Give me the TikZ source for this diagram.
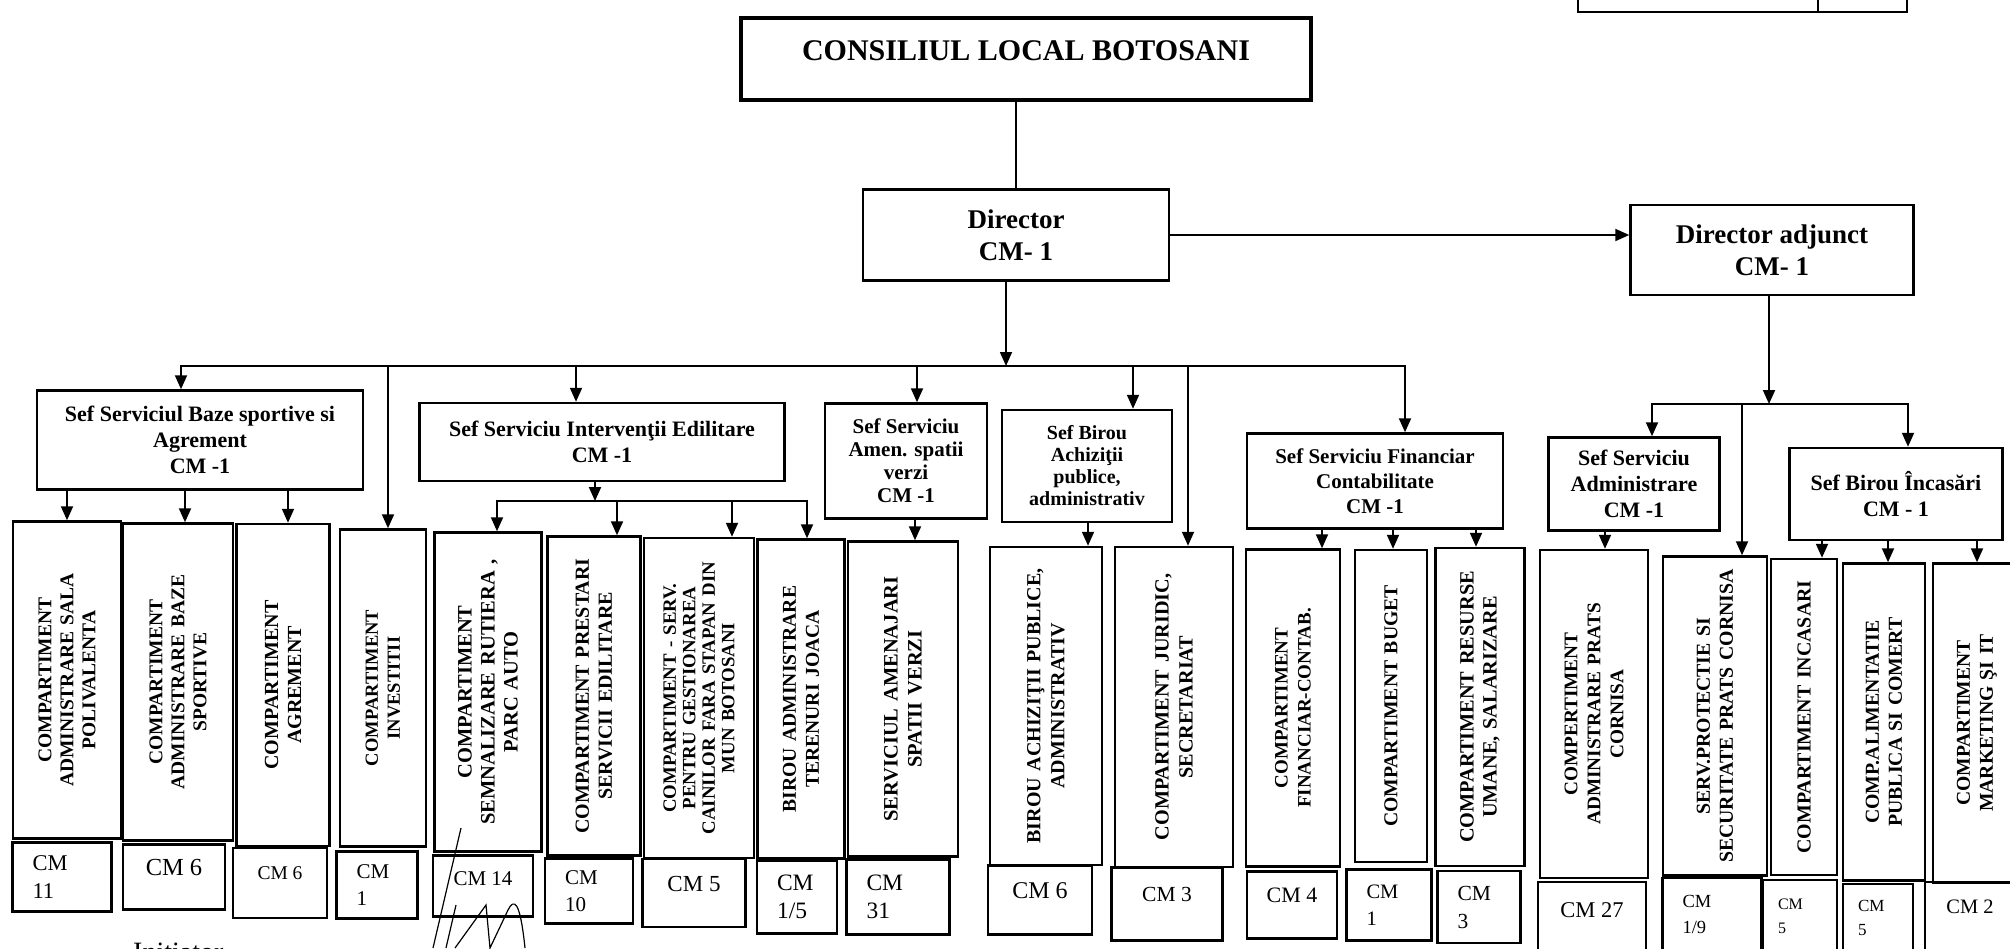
\documentclass[tikz,border=0pt]{standalone}
\usepackage{fontspec}
\setmainfont{Liberation Serif}
\usepackage{tikz}
\usetikzlibrary{arrows.meta}
\newcommand{\vsz}[2]{\bfseries\fontsize{#1}{#2}\selectfont}
\tikzstyle{orgbox}=[draw=black, line width=2.5pt, inner sep=0pt, align=center]
\tikzstyle{headbox}=[orgbox, font=\bfseries\fontsize{27}{32}\selectfont]
\tikzstyle{sefbox}=[orgbox, font=\bfseries\fontsize{22}{26}\selectfont]
\tikzstyle{compbox}=[orgbox, rotate=90, text width=310pt, font=\vsz{20}{23}]
\tikzstyle{cmbox}=[orgbox, font=\fontsize{23}{28}\selectfont]
\tikzstyle{cmone}=[cmbox, text depth=19pt]
\tikzstyle{cmtwo}=[cmbox, align=left]
\tikzstyle{conn}=[line width=2pt]
\tikzstyle{arr}=[conn, -{Triangle[length=14pt,width=12pt]}]
\tikzstyle{arrs}=[conn, {Triangle[length=14pt,width=12pt]}-{Triangle[length=14pt,width=12pt]}]

\begin{document}
\begin{tikzpicture}[x=1pt, y=-1pt]
        \useasboundingbox (0,0) rectangle (2010,948);
        \clip (0,0) rectangle (2010,948);

            % conducere
            \node (cl)[headbox, line width=3.4pt, font=\bfseries\fontsize{30}{34}\selectfont,
                minimum width=570, minimum height=82, text depth=16pt] at (1026,59)
                {CONSILIUL LOCAL BOTOSANI};
            \node (dir)[headbox, minimum width=306, minimum height=91] at (1016,235)
                {Director\\CM- 1};
            \node (adj)[headbox, minimum width=283, minimum height=90] at (1772,250)
                {Director adjunct\\CM- 1};

            % sefi servicii / birouri
            \node (baze)[sefbox, minimum width=326, minimum height=99] at (200,440)
                {Sef Serviciul Baze sportive si\\Agrement\\CM -1};
            \node (intv)[sefbox, minimum width=365, minimum height=78] at (602,442)
                {Sef Serviciu Intervenţii Edilitare\\CM -1};
            \node (amen)[sefbox, font=\bfseries\fontsize{21}{23}\selectfont,
                minimum width=162, minimum height=115] at (906,461)
                {Sef Serviciu\\Amen. spatii\\verzi\\CM -1};
            \node (achiz)[sefbox, font=\bfseries\fontsize{20}{22}\selectfont,
                minimum width=170, minimum height=112] at (1087,466)
                {Sef Birou\\Achiziţii\\publice,\\administrativ};
            \node (fin)[sefbox, font=\bfseries\fontsize{21}{25}\selectfont,
                minimum width=256, minimum height=95] at (1375,481)
                {Sef Serviciu Financiar\\Contabilitate\\CM -1};
            \node (admin)[sefbox, minimum width=171, minimum height=93] at (1634,484)
                {Sef Serviciu\\Administrare\\CM -1};
            \node (incas)[sefbox, minimum width=213, minimum height=92] at (1896,494)
                {Sef Birou Încasări\\CM - 1};

            % compartimente
            \node (v1)[compbox, font=\vsz{19.5}{22}, minimum width=317, minimum height=108] at (67,680)
                {COMPARTIMENT\\ADMINISTRARE SALA\\POLIVALENTA};
            \node (v2)[compbox, font=\vsz{19.5}{22}, minimum width=317, minimum height=110] at (178,682)
                {COMPARTIMENT\\ADMINISTRARE BAZE\\SPORTIVE};
            \node (v3)[compbox, minimum width=322, minimum height=93] at (283,685)
                {COMPARTIMENT\\AGREMENT};
            \node (v4)[compbox, font=\vsz{18.5}{22}, minimum width=317, minimum height=86] at (383,688)
                {COMPARTIMENT\\INVESTITII};
            \node (v5)[compbox, font=\vsz{20.5}{23}, minimum width=319, minimum height=107] at (488,692)
                {COMPARTIMENT\\SEMNALIZARE RUTIERA ,\\PARC AUTO};
            \node (v6)[compbox, minimum width=319, minimum height=93] at (594,696)
                {COMPARTIMENT PRESTARI\\SERVICII EDILITARE};
            \node (v7)[compbox, font=\vsz{18.8}{19.5}, minimum width=320, minimum height=110] at (699,698)
                {COMPARTIMENT - SERV.\\PENTRU GESTIONAREA\\CAINILOR FARA STAPAN DIN\\MUN BOTOSANI};
            \node (v8)[compbox, font=\vsz{19.6}{23}, minimum width=319, minimum height=87] at (801,699)
                {BIROU ADMINISTRARE\\TERENURI JOACA};
            \node (v9)[compbox, font=\vsz{20.5}{24}, minimum width=315, minimum height=110] at (903,699)
                {SERVICIUL AMENAJARI\\SPATII VERZI};
            \node (v10)[compbox, font=\vsz{20}{24}, minimum width=318, minimum height=112] at (1046,706)
                {BIROU ACHIZIŢII PUBLICE,\\ADMINISTRATIV};
            \node (v11)[compbox, font=\vsz{20.2}{24}, minimum width=320, minimum height=118] at (1174,707)
                {COMPARTIMENT JURIDIC,\\SECRETARIAT};
            \node (v12)[compbox, font=\vsz{19}{23}, minimum width=317, minimum height=94] at (1293,708)
                {COMPARTIMENT\\FINANCIAR-CONTAB.};
            \node (v13)[compbox, font=\vsz{19.7}{23}, minimum width=312, minimum height=72] at (1391,706)
                {COMPARTIMENT BUGET};
            \node (v14)[compbox, font=\vsz{20.3}{23}, minimum width=318, minimum height=89] at (1480,707)
                {COMPARTIMENT RESURSE\\UMANE, SALARIZARE};
            \node (v15)[compbox, font=\vsz{19.3}{23}, minimum width=328, minimum height=108] at (1594,714)
                {COMPERTIMENT\\ADMINISTRARE PRATS\\CORNISA};
            \node (v16)[compbox, font=\vsz{19.8}{23}, minimum width=319, minimum height=104] at (1715,716)
                {SERV.PROTECTIE SI\\SECURITATE PRATS CORNISA};
            \node (v17)[compbox, font=\vsz{19.9}{23}, minimum width=316, minimum height=66] at (1804,717)
                {COMPARTIMENT INCASARI};
            \node (v18)[compbox, font=\vsz{19.8}{23}, minimum width=317, minimum height=82] at (1884,722)
                {COMP.ALIMENTATIE\\PUBLICA SI COMERT};
            \node (v19)[compbox, font=\vsz{19.6}{23}, minimum width=319, minimum height=88] at (1977,723)
                {COMPARTIMENT\\MARKETING ŞI IT};

            % numar posturi
            \node (c1)[cmtwo, font=\fontsize{22.5}{28}\selectfont, minimum width=99, minimum height=69, text width=59pt] at (62,877) {CM\\11};
            \node (c2)[cmone, font=\fontsize{24.5}{28}\selectfont, minimum width=102, minimum height=65] at (174,877) {CM 6};
            \node (c3)[cmone, font=\fontsize{19.5}{24}\selectfont, minimum width=94, minimum height=70] at (280,883) {CM 6};
            \node (c4)[cmtwo, font=\fontsize{21}{27}\selectfont, minimum width=81, minimum height=67, text width=41pt] at (377,885) {CM\\1};
            \node (c5)[cmone, font=\fontsize{21}{25}\selectfont, minimum width=100, minimum height=61, text depth=15pt] at (483,886) {CM 14};
            \node (c6)[cmtwo, font=\fontsize{21}{27}\selectfont, minimum width=88, minimum height=65, text width=48pt] at (589,891) {CM\\10};
            \node (c7)[cmone, minimum width=103, minimum height=68] at (694,893) {CM 5};
            \node (c8)[cmtwo, font=\fontsize{23.5}{28}\selectfont, minimum width=80, minimum height=73, text width=40pt] at (797,897) {CM\\1/5};
            \node (c9)[cmtwo, font=\fontsize{23.5}{28}\selectfont, minimum width=103, minimum height=75, text width=63pt] at (898,897) {CM\\31};
            \node (c10)[cmone, font=\fontsize{24}{28}\selectfont, minimum width=104, minimum height=69] at (1040,900) {CM 6};
            \node (c11)[cmone, font=\fontsize{21.5}{25}\selectfont, minimum width=111, minimum height=73] at (1167,904) {CM 3};
            \node (c12)[cmone, font=\fontsize{22}{25}\selectfont, minimum width=90, minimum height=67] at (1292,905) {CM 4};
            \node (c13)[cmtwo, font=\fontsize{20.5}{27}\selectfont, minimum width=85, minimum height=71, text width=45pt] at (1389,905) {CM\\1};
            \node (c14)[cmtwo, font=\fontsize{21.5}{28}\selectfont, minimum width=83, minimum height=72, text width=43pt] at (1479,907) {CM\\3};
            \node (c15)[cmone, font=\fontsize{22.5}{25}\selectfont, minimum width=108, minimum height=76] at (1592,920) {CM 27};
            \node (c16)[cmtwo, font=\fontsize{18.5}{26}\selectfont, minimum width=99, minimum height=72, text width=59pt] at (1712,914) {CM\\1/9};
            \node (c17)[cmtwo, font=\fontsize{16}{24}\selectfont, minimum width=74, minimum height=72, text width=44pt] at (1800,916) {CM\\5};
            \node (c18)[cmtwo, font=\fontsize{17}{24}\selectfont, minimum width=70, minimum height=68, text width=40pt] at (1878,918) {CM\\5};
            \node (c19)[cmone, font=\fontsize{20.5}{24}\selectfont, minimum width=90, minimum height=68] at (1970,916) {CM 2};

            % legaturi
            \coordinate (busL) at (181,366);
            \coordinate (busR) at (1405,366);
            \coordinate (subL) at (497,501);
            \coordinate (subR) at (807,501);
            \coordinate (bus2L) at (1652,404);
            \coordinate (bus2R) at (1908,404);

            \draw[conn, line width=1.6pt] (dir.north|-cl.south) -- (dir.north);
            \draw[arr] (dir.east) -- (dir.east-|adj.west);
            \draw[arr, line width=1.6pt] (1006,0|-dir.south) -- (1006,0|-busL);
            \draw[arrs] (busL|-baze.north) -- (busL) -- (busR) -- (busR|-fin.north);
            \foreach \xa/\dst in {576/intv,917/amen,1133/achiz}
                \draw[arr] (\xa,0|-busL) -- (\xa,0|-\dst.north);
            \foreach \xa/\dst in {388/v4,1188/v11}
                \draw[arr] (\xa,0|-busL) -- (\xa,0|-\dst.east);

            \draw[arr] (595,0|-intv.south) -- (595,0|-subL);
            \draw[arrs] (subL|-v5.east) -- (subL) -- (subR) -- (subR|-v8.east);
            \foreach \xa/\dst in {617/v6,732/v7}
                \draw[arr] (\xa,0|-subL) -- (\xa,0|-\dst.east);

            \foreach \xa/\src/\dst in {67/baze/v1,185/baze/v2,288/baze/v3,915/amen/v9,1088/achiz/v10,
                1322/fin/v12,1393/fin/v13,1476/fin/v14,1605/admin/v15,
                1822/incas/v17,1888/incas/v18,1977/incas/v19}
                \draw[arr] (\xa,0|-\src.south) -- (\xa,0|-\dst.east);

            \draw[arr] (1769,0|-adj.south) -- (1769,0|-bus2L);
            \draw[arrs] (bus2L|-admin.north) -- (bus2L) -- (bus2R) -- (bus2R|-incas.north);
            \draw[arr] (1742,0|-bus2L) -- (1742,0|-v16.east);

            % tabel (colt dreapta sus)
            \draw[line width=2pt] (1578,0) |- (1907,12) -- (1907,0);
            \draw[line width=2pt] (1818,0) -- (1818,12);

            % semnatura
            \node (init)[anchor=base west, inner sep=0pt, font=\fontsize{28}{30}\selectfont] at (133,961) {Initiator};
            \draw[line width=1.2pt] (433,948) -- (461,828);
            \draw[line width=1.2pt] (446,948) -- (456,905);
            \draw[line width=1.2pt] (455,948) -- (486,905) -- (490,948) -- (508,910)
                .. controls (514,898) and (520,900) .. (525,948);
        \end{tikzpicture}
\end{document}
